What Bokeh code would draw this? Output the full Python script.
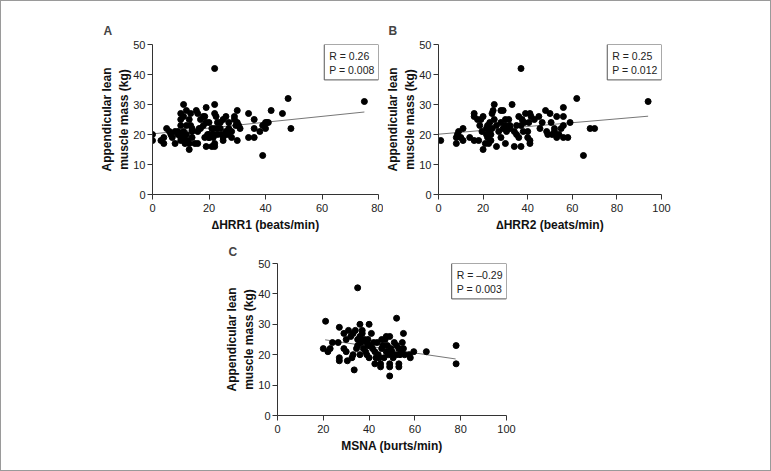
from bokeh.plotting import figure
from bokeh.models import Range1d, Label, Spacer
from bokeh.layouts import column, row
from bokeh.embed import file_html
from bokeh.resources import INLINE

# ---------------- data ----------------
a_x = [0, 0, 3, 4, 4, 5, 6, 6.5, 7, 8, 8, 9, 10, 10, 10, 10, 10, 10, 11, 11, 11, 11, 11.5, 12, 12,
       12.5, 13, 13, 13, 13.5, 13.5, 14, 14, 15, 15.5, 16, 16, 16, 16.5, 17, 18, 18, 18.5, 18.5, 19, 19,
       19, 19.5, 20, 20, 20, 21, 21, 21.5, 21.5, 22, 22, 22, 22, 22, 22, 22.5, 23, 23, 24, 24, 24.5, 25,
       25, 26, 26, 26.5, 27, 27, 28, 28, 29, 29, 29.5, 30, 30, 30, 30.5, 31, 34, 34, 36, 36, 36, 38, 39,
       39, 40, 40, 40.5, 41, 42, 46, 48, 49, 75, 17, 21, 23, 25, 14, 12, 9, 27, 20]
a_y = [20, 18, 18, 17, 19, 22, 21, 20, 19, 17, 21, 20, 27, 25, 23, 20, 19, 18, 30, 21, 19, 26, 17, 28, 20,
       18, 15, 25, 17, 27, 23, 21, 19, 17, 28, 27, 21, 17, 22, 25, 26, 23, 19, 26, 29, 16,
       24, 20, 19, 20, 19, 22, 16, 19, 20, 22, 27, 30, 42, 16, 17, 26, 20, 22, 24, 22, 20, 18,
       25, 26, 21, 20, 24, 21, 19, 21, 26, 25, 23, 28, 18, 24, 23, 22, 27, 19, 19, 25, 22, 21, 23,
       13, 24, 22, 24, 24, 28, 27, 32, 22, 31, 22, 20, 24, 19, 22, 23, 21, 22, 24]
a_fit_x = [0, 75]
a_fit_y = [20.2, 27.5]

b_x = [1, 8, 8, 8.5, 9, 10, 11, 11, 14, 16, 16, 16, 17.5, 18, 18.5, 19, 19.5, 20, 20, 21, 21.5, 21.5,
       22, 22, 22.5, 23, 23, 23.5, 23.5, 24, 24, 24.5, 25, 25, 26, 26, 27, 28, 28, 28, 29, 29, 30, 30,
       30, 30.5, 31, 31.5, 32, 32, 33, 34, 34, 35, 35, 36, 36, 37, 37, 37, 37.5, 38, 38.5, 39, 40, 40,
       40.5, 41, 41, 41, 41.5, 43, 45, 45.5, 46.5, 48, 48.5, 49, 50, 50.5, 51, 52, 52, 53, 53, 54, 55,
       56, 56, 56, 56, 58, 59, 62, 65, 68, 70, 94]
b_y = [18, 17, 19, 20, 21, 19, 22, 18, 19, 27, 26, 18, 25, 18, 23, 25, 21, 26, 15, 17, 22, 20,
       23, 19, 17, 24, 21, 18, 20, 22, 27, 28, 30, 25, 23, 16, 21, 28, 24, 19, 28, 22, 23, 25,
       17, 21, 22, 25, 23, 22, 30, 21, 16, 23, 20, 19, 26, 23, 42, 16, 25, 21, 24, 27, 19, 21,
       24, 27, 18, 17, 26, 25, 26, 22, 24, 28, 21, 20, 27, 24, 20, 22, 21, 19, 26, 20, 22,
       23, 26, 29, 19, 19, 24, 32, 13, 22, 22, 31]
b_fit_x = [0, 94]
b_fit_y = [20.1, 26.1]

c_x = [20, 21, 22, 23, 24, 26.5, 27, 27, 27, 29, 29, 30, 30, 30.5, 31, 32, 32.5, 33, 33, 33.5, 34, 34.5,
       35, 35, 35, 36, 36, 36, 36.5, 37, 37, 37.5, 38, 38.5, 39, 39, 39.5, 39.5, 40, 40, 40.5, 41,
       41.5, 42, 42.5, 42.5, 43, 43.5, 44, 44.5, 45, 45, 45.5, 45.5, 46, 46.5, 47, 47.5, 47.5, 48,
       48.5, 49, 49, 49, 49, 49.5, 50, 50.5, 51, 52, 52, 52, 53, 53, 53, 53.5, 54, 54.5, 55, 55,
       55.5, 57.5, 58, 59.5, 65, 78, 78]
c_y = [22, 31, 21, 22, 24, 24, 18, 19, 29, 27, 22, 21, 25, 18, 28, 26, 19, 20, 27, 15, 28, 22,
       23, 42, 25, 20, 30, 26, 24, 28, 27, 22, 25, 21, 20, 24, 23, 25, 30, 19, 23, 27,
       22, 24, 21, 17, 19, 24, 20, 19, 17, 16, 22, 25, 23, 19, 25, 21, 26, 23,
       20, 17, 16, 13, 26, 22, 21, 19, 24, 20, 32, 23, 17, 16, 22, 20, 21, 24, 27, 22,
       20, 20, 19, 21, 21, 23, 17]
c_fit_x = [20.8, 77.8]
c_fit_y = [24.9, 18.6]

y_ticks = [0, 10, 20, 30, 40, 50]
a_ticks = [0, 20, 40, 60, 80]
b_ticks = [0, 20, 40, 60, 80, 100]
c_ticks = [0, 20, 40, 60, 80, 100]

y_label = "Appendicular lean\nmuscle mass (kg)"

FONT = "Liberation Sans"


def panel(letter, xs, ys, fx, fy, xmax, xticks, xlabel, stats, width, height,
          ml, mr, mt, mb, title_off, title_standoff):
    p = figure(width=width, height=height, x_range=Range1d(0, xmax), y_range=Range1d(0, 50),
               output_backend="svg", toolbar_location=None,
               min_border_left=ml, min_border_right=mr, min_border_top=mt, min_border_bottom=mb,
               title=letter)
    p.title.text_font = FONT
    p.title.text_font_style = "bold"
    p.title.text_font_size = "12px"
    p.title.offset = title_off
    p.title.standoff = title_standoff
    p.outline_line_color = None
    p.xgrid.visible = False
    p.ygrid.visible = False
    p.background_fill_color = "white"
    p.border_fill_color = "white"
    for ax in (p.xaxis[0], p.yaxis[0]):
        ax.minor_tick_line_color = None
        ax.major_tick_out = 5
        ax.major_tick_in = 0
        ax.axis_line_color = "#333333"
        ax.major_tick_line_color = "#333333"
        ax.major_label_text_font = FONT
        ax.major_label_text_font_size = "11px"
        ax.major_label_text_color = "#222222"
        ax.axis_label_text_font = FONT
        ax.axis_label_text_font_style = "bold"
        ax.axis_label_text_font_size = "12px"
        ax.axis_label_text_color = "#111111"
    p.xaxis.ticker = xticks
    p.yaxis.ticker = y_ticks
    p.xaxis.axis_label = xlabel
    p.yaxis.axis_label = y_label
    p.xaxis.major_label_standoff = 4
    p.yaxis.major_label_standoff = 2
    p.xaxis.axis_label_standoff = 3
    p.yaxis.axis_label_standoff = -1

    p.line(fx, fy, line_color="#777777", line_width=1)
    p.scatter(xs, ys, size=6, fill_color="black", line_color="black")

    lab = Label(x=xmax, y=50, text=stats, anchor="top_right", text_align="left",
                text_font=FONT, text_font_size="10.5px", text_color="#222222",
                border_line_color="#555555", border_line_width=1,
                background_fill_color="white", padding=(5, 4, 5, 4))
    p.add_layout(lab)
    return p


pa = panel("A", a_x, a_y, a_fit_x, a_fit_y, 80, a_ticks, "\u2206HRR1 (beats/min)",
           "R = 0.26\nP = 0.008", 382, 233, 151, 5, 43, 39, -49, 14)
pb = panel("B", b_x, b_y, b_fit_x, b_fit_y, 100, b_ticks, "\u2206HRR2 (beats/min)",
           "R = 0.25\nP = 0.012", 290, 233, 53, 12, 43, 39, -50, 14)
pc = panel("C", c_x, c_y, c_fit_x, c_fit_y, 100, c_ticks, "MSNA (burts/min)",
           "R = \u20130.29\nP = 0.003", 517, 222, 276, 12, 29, 41, -49, 10)

layout = column(row(pa, pb, Spacer(width=769 - 382 - 290, height=233)),
                row(pc, Spacer(width=769 - 517, height=222)),
                Spacer(width=769, height=469 - 233 - 222),
                spacing=0, styles={"border": "1px solid #9a9a9a"})

open("out.html", "w").write(file_html(layout, INLINE))
